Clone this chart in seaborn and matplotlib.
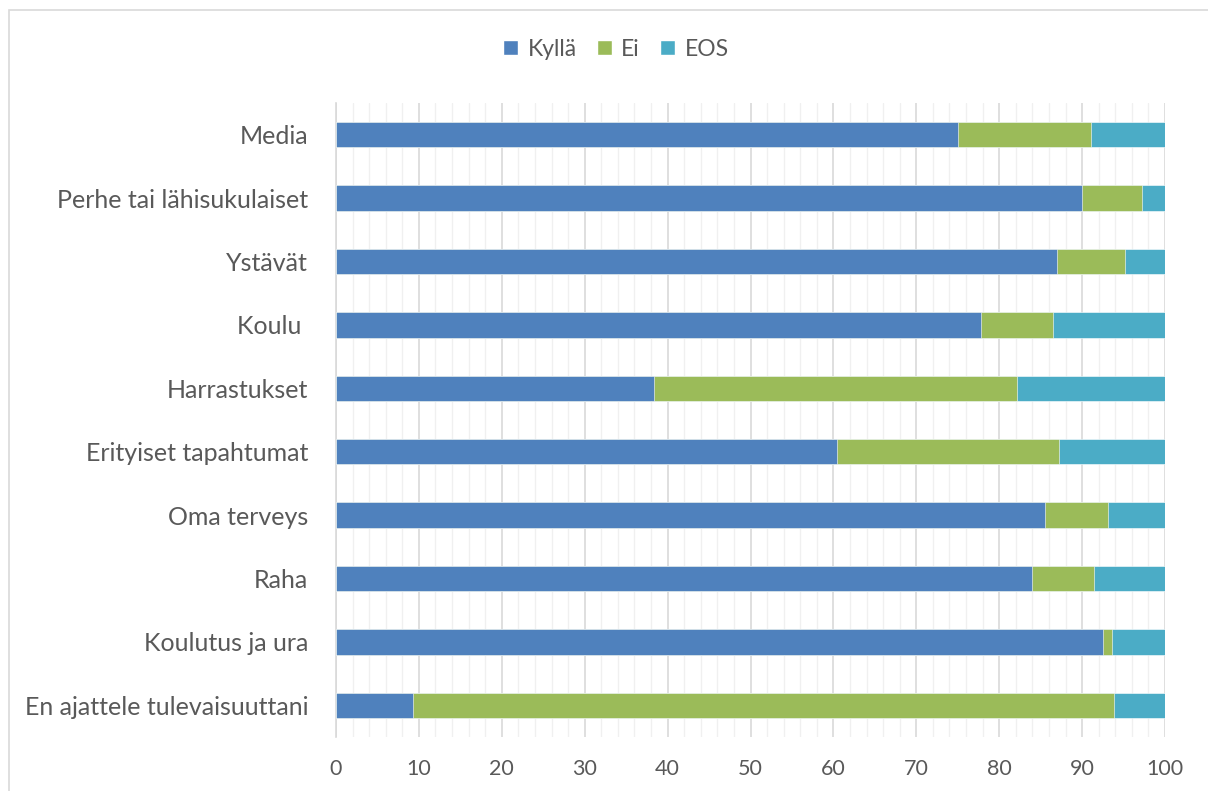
import matplotlib
matplotlib.use("Agg")
import matplotlib.pyplot as plt
import seaborn as sns
import pandas as pd
from matplotlib.patches import Patch, Rectangle
from matplotlib.ticker import MultipleLocator

categories = ["Media", "Perhe tai lähisukulaiset", "Ystävät", "Koulu ",
              "Harrastukset", "Erityiset tapahtumat", "Oma terveys", "Raha",
              "Koulutus ja ura", "En ajattele tulevaisuuttani"]
kylla = [75.0, 90.0, 87.0, 77.8, 38.4, 60.4, 85.5, 84.0, 92.5, 9.3]
ei = [16.1, 7.2, 8.2, 8.7, 43.7, 26.8, 7.6, 7.4, 1.1, 84.5]
eos = [8.9, 2.8, 4.8, 13.5, 17.9, 12.8, 6.9, 8.6, 6.4, 6.2]
series = ["Kyllä", "Ei", "EOS"]
colors = ["#4F81BD", "#9BBB59", "#4BACC6"]

sns.set_style("white")
plt.rcParams["font.family"] = ["Lato", "DejaVu Sans"]
text_col = "#595959"

df = pd.DataFrame({"cat": categories, "Kyllä": kylla, "Ei": ei, "EOS": eos})
df["c1"] = df["Kyllä"]
df["c2"] = df["Kyllä"] + df["Ei"]
df["c3"] = df["c2"] + df["EOS"]

fig = plt.figure(figsize=(12.08, 7.91), dpi=100)
ax = fig.add_axes([336 / 1208, 1 - 737 / 791, (1165 - 336) / 1208, (737 - 103) / 791])

# stacked: draw cumulative totals back to front
for col, c in zip(["c3", "c2", "c1"], colors[::-1]):
    sns.barplot(data=df, x=col, y="cat", orient="h", color=c, saturation=1,
                width=0.4, edgecolor="white", linewidth=0.4, ax=ax, zorder=3)

ax.set_xlim(0, 100)
ax.xaxis.set_major_locator(MultipleLocator(10))
ax.xaxis.set_minor_locator(MultipleLocator(2))
ax.grid(which="major", axis="x", color="#D9D9D9", linewidth=1.2, zorder=0)
ax.grid(which="minor", axis="x", color="#F0F0F0", linewidth=1.0, zorder=0)
ax.set_axisbelow(True)
ax.set_xlabel("")
ax.set_ylabel("")
for s in ["top", "right", "bottom"]:
    ax.spines[s].set_visible(False)
ax.spines["left"].set_color("#D9D9D9")
ax.spines["left"].set_linewidth(1.2)
ax.tick_params(axis="both", which="both", length=0, colors=text_col)
ax.tick_params(axis="y", labelsize=18, pad=20)
ax.tick_params(axis="x", labelsize=15.5, pad=16)

handles = [Patch(facecolor=c, label=s) for s, c in zip(series, colors)]
fig.legend(handles=handles, loc="center", bbox_to_anchor=(616 / 1208, 1 - 49 / 791),
           ncol=3, frameon=False, fontsize=16.5, handlelength=0.65, handleheight=0.65,
           handletextpad=0.4, columnspacing=0.9, labelcolor=text_col)

# chart area border
fig.patches.append(Rectangle((9 / 1208, -0.05), 1.1, 1 - 10 / 791 + 0.05,
                             transform=fig.transFigure, fill=False,
                             edgecolor="#D9D9D9", linewidth=1.2))

fig.savefig("out.png", dpi=100)
